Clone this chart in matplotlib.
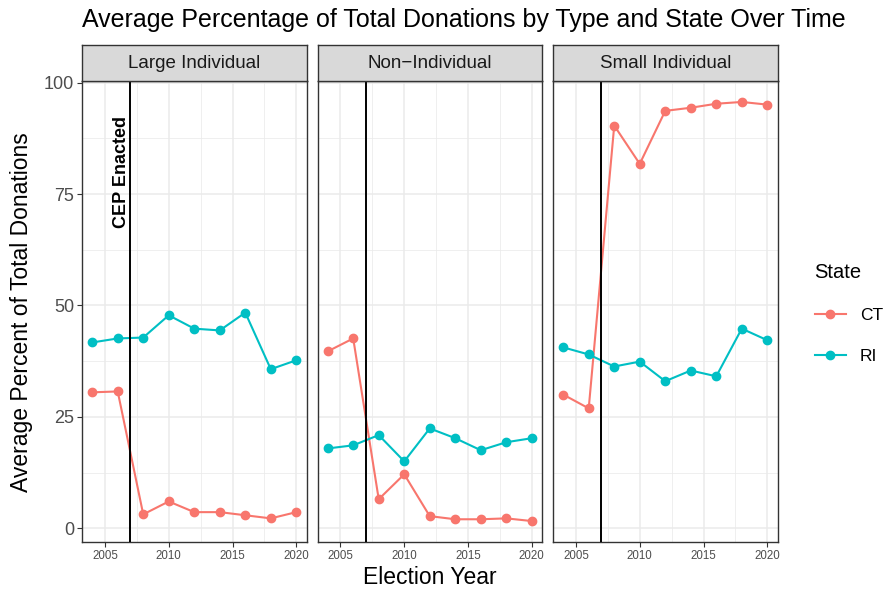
import numpy as np
import matplotlib
matplotlib.use("Agg")
import matplotlib.pyplot as plt
from matplotlib.lines import Line2D

plt.rcParams['font.family'] = ['Liberation Sans', 'DejaVu Sans']

years = [2004, 2006, 2008, 2010, 2012, 2014, 2016, 2018, 2020]
types = ["Large Individual", "Non\u2212Individual", "Small Individual"]
states = ["CT", "RI"]
colors = {"CT": "#F8766D", "RI": "#00BFC4"}

# average percent of total donations, per type and state
large_ct = [30.5, 30.7, 3.1, 6.0, 3.6, 3.6, 2.9, 2.2, 3.6]
large_ri = [41.7, 42.6, 42.8, 47.8, 44.8, 44.4, 48.4, 35.7, 37.7]
non_ct = [39.7, 42.6, 6.5, 12.1, 2.7, 2.0, 2.0, 2.2, 1.6]
non_ri = [17.9, 18.6, 20.9, 15.0, 22.4, 20.2, 17.5, 19.3, 20.2]
small_ct = [30.0, 26.9, 90.4, 81.8, 93.7, 94.4, 95.3, 95.7, 95.1]
small_ri = [40.6, 39.0, 36.3, 37.4, 33.0, 35.4, 34.1, 44.8, 42.2]

data = {
    types[0]: {"CT": large_ct, "RI": large_ri},
    types[1]: {"CT": non_ct, "RI": non_ri},
    types[2]: {"CT": small_ct, "RI": small_ri},
}

cep_year = 2007
W, H = 889, 590

fig = plt.figure(figsize=(W / 100, H / 100), dpi=100)

# shared scales with 5% expansion like ggplot
all_vals = np.concatenate([np.array(v) for d in data.values() for v in d.values()])
lo, hi = all_vals.min(), all_vals.max()
pad = 0.05 * (hi - lo)
ylim = (lo - pad, hi + pad)
xpad = 0.05 * (years[-1] - years[0])
xlim = (years[0] - xpad, years[-1] + xpad)

panel_left = [82, 317.5, 553]
panel_w = 224.5
panel_top, panel_bot = 81, 542
strip_top = 45

def px_axes(x0, y0, x1, y1):
    return fig.add_axes([x0 / W, 1 - y1 / H, (x1 - x0) / W, (y1 - y0) / H])

for i, t in enumerate(types):
    x0 = panel_left[i]
    ax = px_axes(x0, panel_top, x0 + panel_w, panel_bot)
    ax.set_xlim(*xlim)
    ax.set_ylim(*ylim)
    ax.set_xticks([2005, 2010, 2015, 2020])
    ax.set_xticks([2007.5, 2012.5, 2017.5], minor=True)
    ax.set_yticks([0, 25, 50, 75, 100])
    ax.set_yticks([12.5, 37.5, 62.5, 87.5], minor=True)
    ax.grid(which="major", color="#EBEBEB", lw=1.1)
    ax.grid(which="minor", color="#EBEBEB", lw=0.55)
    ax.set_axisbelow(True)
    for s in ax.spines.values():
        s.set_color("#333333")
        s.set_linewidth(1.0)
    ax.tick_params(which="major", length=3.5, width=0.8, color="#333333",
                   labelcolor="#4D4D4D", pad=2)
    ax.tick_params(which="minor", length=0)
    ax.tick_params(axis="x", labelsize=8.3)
    ax.tick_params(axis="y", labelsize=13)
    if i > 0:
        ax.tick_params(axis="y", left=False, labelleft=False)

    for st in states:
        ax.plot(years, data[t][st], color=colors[st], lw=1.5,
                marker="o", ms=6, zorder=3)
    ax.axvline(cep_year, color="black", lw=1.4, zorder=4)
    if i == 0:
        ax.text(cep_year - 0.03, 80, "CEP Enacted", rotation=90, ha="right",
                va="center", fontsize=13, fontweight="bold", zorder=5)

    # facet strip
    sax = px_axes(x0, strip_top, x0 + panel_w, panel_top)
    sax.set_facecolor("#D9D9D9")
    sax.set_xticks([])
    sax.set_yticks([])
    for s in sax.spines.values():
        s.set_color("#333333")
        s.set_linewidth(1.0)
    sax.text(0.5, 0.48, t, ha="center", va="center", fontsize=13.5,
             color="#1A1A1A", transform=sax.transAxes)

fig.text(82 / W, 1 - 20 / H, "Average Percentage of Total Donations by Type and State Over Time",
         ha="left", va="center", fontsize=18)
fig.text(22 / W, 1 - 312 / H, "Average Percent of Total Donations", rotation=90,
         ha="center", va="center", fontsize=16.5)
fig.text(430 / W, 1 - 578 / H, "Election Year", ha="center", va="center", fontsize=16.5)

handles = [Line2D([0], [0], color=colors[s], lw=1.5, marker="o", ms=6) for s in states]
leg = fig.legend(handles, states, title="State", loc="upper left",
                 bbox_to_anchor=(799 / W, 1 - 247 / H), frameon=False,
                 fontsize=12.5, title_fontsize=14.5, handlelength=1.8,
                 labelspacing=1.5, alignment="left")

fig.savefig("out.png", dpi=100)
